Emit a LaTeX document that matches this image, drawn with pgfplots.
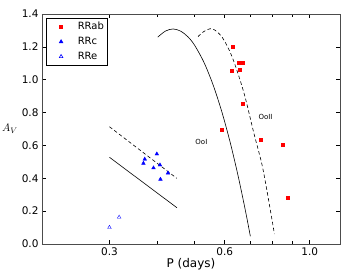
\documentclass[border=0pt]{standalone}
\usepackage{pgfplots}
\pgfplotsset{compat=1.18}
\usepackage{fontspec}
\setmainfont{DejaVu Sans}
\begin{document}
\begin{tikzpicture}
\path[use as bounding box] (-42pt,-27pt) rectangle (318pt,244pt);
\begin{axis}[
  scale only axis, width=298pt, height=230pt,
  xmode=log, xmin=0.2, xmax=1.2, ymin=0, ymax=1.4,
  xtick={0.3,0.6,1.0}, xticklabels={0.3,0.6,1.0},
  minor xtick={0.2,0.4,0.5,0.7,0.8,0.9},
  ytick={0,0.2,...,1.4},
  yticklabel style={/pgf/number format/fixed,/pgf/number format/fixed zerofill,/pgf/number format/precision=1},
  /pgf/number format/assume math mode=true,
  tick label style={font=\fontsize{10.5}{12}\selectfont},
  major tick length=4pt, minor tick length=3pt,
  tick style={black, line width=0.5pt},
  axis line style={gray!60!black, line width=0.8pt},
  xlabel={P (days)}, xlabel style={font=\fontsize{12}{14}\selectfont, yshift=4pt},
  ylabel={$A_V$}, ylabel style={rotate=-90, font=\fontsize{11}{13}\selectfont, at={(rel axis cs:0,0.5)}, anchor=center, xshift=-32pt},
  legend style={at={(0.0134,0.9826)}, anchor=north west, draw=black, line width=0.6pt,
    font=\fontsize{10}{12}\selectfont, row sep=2pt, inner xsep=1pt, inner ysep=2pt},
  legend cell align=left,
  legend image code/.code={\path (0cm,0cm) (0.98cm,0cm); \draw[#1] plot coordinates {(0.475cm,0cm)};},
]
\addplot[only marks, mark=square*, mark size=1.6pt, color=red] coordinates {
(0.630,1.203) (0.655,1.104) (0.669,1.104) (0.626,1.055) (0.657,1.063)
(0.668,0.854) (0.590,0.694) (0.746,0.633) (0.851,0.603) (0.875,0.282)
};
\addlegendentry{RRab}
\addplot[only marks, mark=triangle*, mark size=2.1pt, color=blue] coordinates {
(0.399,0.548) (0.371,0.516) (0.368,0.491) (0.391,0.463) (0.4065,0.481)
(0.4266,0.432) (0.4077,0.394)
};
\addlegendentry{RRc}
\addplot[only marks, mark=triangle, mark size=2.1pt, color=blue] coordinates {
(0.300,0.101) (0.318,0.163)
};
\addlegendentry{RRe}
% OoI curve (solid)
\addplot[black, line width=0.6pt, smooth, forget plot] coordinates {
(0.401,1.259) (0.42,1.296) (0.44,1.309) (0.46,1.296) (0.48,1.263) (0.50,1.212)
(0.53,1.104) (0.56,0.966) (0.59,0.803) (0.62,0.619) (0.65,0.417) (0.68,0.200) (0.70,0.047)
};
% OoII curve (dashed)
\addplot[black, line width=0.6pt, smooth, dash pattern=on 3.5pt off 2.5pt, forget plot] coordinates {
(0.511,1.262) (0.529,1.293) (0.557,1.310) (0.591,1.258) (0.628,1.136) (0.673,0.923)
(0.715,0.674) (0.756,0.450) (0.809,0.061)
};
% RRc lines
\addplot[black, line width=0.6pt, forget plot] coordinates {(0.300,0.528) (0.450,0.221)};
\addplot[black, line width=0.6pt, dash pattern=on 3.5pt off 2.5pt, forget plot] coordinates {(0.300,0.714) (0.4497,0.400)};
\node[font=\fontsize{7}{8}\selectfont] at (axis cs:0.5215,0.619) {OoI};
\node[font=\fontsize{7}{8}\selectfont] at (axis cs:0.767,0.771) {OoII};
\end{axis}
\end{tikzpicture}
\end{document}
